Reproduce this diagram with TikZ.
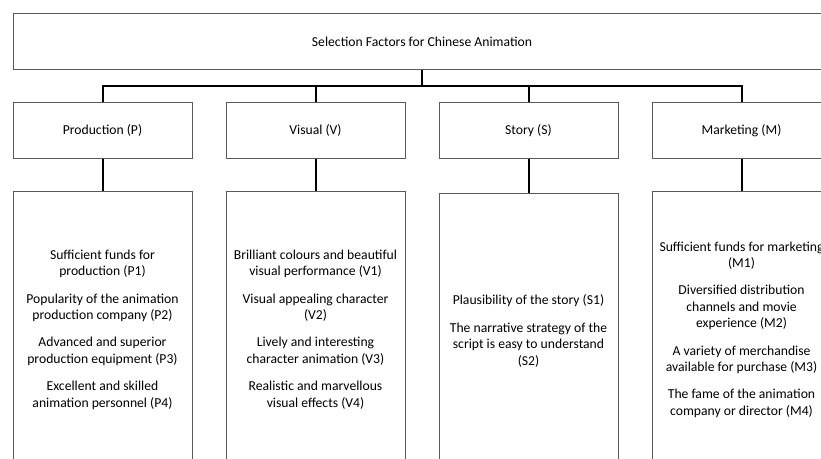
\documentclass[tikz,border=0pt]{standalone}
\usepackage{fontspec}
\setmainfont{Carlito}
\usetikzlibrary{calc}

\begin{document}
\begin{tikzpicture}[x=0.75pt, y=-0.75pt,
    box/.style={rectangle, draw=black!65, line width=0.75pt, fill=white, align=center,
      font=\fontsize{10.25}{12.4}\selectfont},
    factor/.style={box, minimum width=134.25pt, minimum height=41.6pt},
    itemlist/.style={box, minimum width=134.25pt, minimum height=206.25pt},
    link/.style={draw=black, line width=1.5pt}]
      \useasboundingbox (0,0) rectangle (821,459);
      \clip (0,0) rectangle (821,459);
      \node[box, minimum width=613.5pt, minimum height=42pt] (title) at (422,42) {Selection Factors for Chinese Animation};
      \foreach \n/\x/\t in {prod/102.5/Production (P), vis/315.5/Visual (V), story/528.5/Story (S), mkt/741.5/Marketing (M)} {
        \node[factor] (\n) at (\x,130.3) {\t};
      }
      \node[itemlist] (prod-list) at (102.5,329.5) {Sufficient funds for\\production (P1)\\[8pt]
        Popularity of the animation\\production company (P2)\\[8pt]
        Advanced and superior\\production equipment (P3)\\[8pt]
        Excellent and skilled\\animation personnel (P4)};
      \node[itemlist] (vis-list) at (315.5,329.5) {Brilliant colours and beautiful\\visual performance (V1)\\[8pt]
        Visual appealing character\\(V2)\\[8pt]
        Lively and interesting\\character animation (V3)\\[8pt]
        Realistic and marvellous\\visual effects (V4)};
      \node[itemlist] (story-list) at (528.5,331) {Plausibility of the story (S1)\\[8pt]
        The narrative strategy of the\\script is easy to understand\\(S2)};
      \node[itemlist] (mkt-list) at (741.5,329.5) {Sufficient funds for marketing\\(M1)\\[8pt]
        Diversified distribution\\channels and movie\\experience (M2)\\[8pt]
        A variety of merchandise\\available for purchase (M3)\\[8pt]
        The fame of the animation\\company or director (M4)};
      \foreach \n in {prod,vis,story,mkt} {
        \draw[link] (title.south) -- ++(0,15.5) -| (\n.north);
        \draw[link] (\n.south) -- (\n-list.north);
      }
    \end{tikzpicture}
\end{document}
